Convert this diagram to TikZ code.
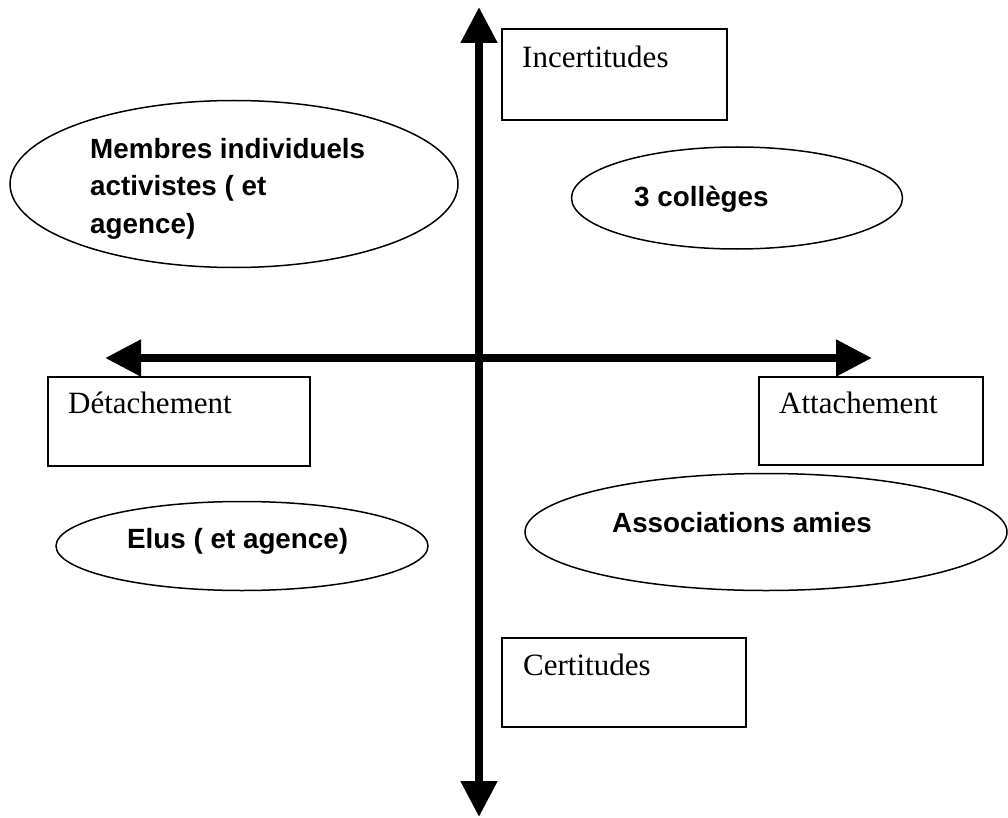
\documentclass[tikz,border=0pt]{standalone}
\usepackage{fontspec}
\setmainfont{Liberation Serif}
\newfontfamily\lsans{Liberation Sans}
\usetikzlibrary{arrows.meta,shapes.geometric}
\tikzset{
  axisline/.style={line width=8pt,{Triangle[length=36pt,width=35pt]}-{Triangle[length=36pt,width=35pt]}},
  boxnode/.style={draw,line width=1.5pt,rectangle,inner sep=0pt,outer sep=0pt},
  ovalnode/.style={draw,line width=1.5pt,ellipse,inner sep=0pt,outer sep=0pt},
  boxtext/.style={inner sep=0pt,anchor=base west,font=\fontsize{31}{37}\selectfont},
  ovaltext/.style={inner sep=0pt,font=\lsans\bfseries\fontsize{27.8}{37.5}\selectfont},
}
\begin{document}
\begin{tikzpicture}[x=1pt,y=-1pt]
\useasboundingbox (0,0) rectangle (1008,818);
% axes
\coordinate (top) at (479,7);
\coordinate (bottom) at (479,817);
\coordinate (left) at (105,358);
\coordinate (right) at (872,358);
\draw[axisline] (top) -- (bottom);
\draw[axisline] (left) -- (right);
% boxes
\node[boxnode,minimum width=225pt,minimum height=91pt] (incert) at (614.5,74.5) {};
\node[boxnode,minimum width=262pt,minimum height=89pt] (detach) at (179,421.5) {};
\node[boxnode,minimum width=224pt,minimum height=88pt] (attach) at (871,421) {};
\node[boxnode,minimum width=244pt,minimum height=89pt] (certit) at (624,682.5) {};
\node[boxtext] (tincert) at (522,68) {Incertitudes};
\node[boxtext] (tdetach) at (68,413) {Détachement};
\node[boxtext] (tattach) at (779,413) {Attachement};
\node[boxtext] (tcertit) at (523,675) {Certitudes};
% ellipses
\node[ovalnode,minimum width=448pt,minimum height=167pt] (membres) at (234,184) {};
\node[ovalnode,minimum width=331pt,minimum height=102pt] (colleges) at (737,198) {};
\node[ovalnode,minimum width=372pt,minimum height=89pt] (elus) at (242,546) {};
\node[ovalnode,minimum width=482pt,minimum height=117pt] (assoc) at (766,532) {};
\node[ovaltext,anchor=north west,align=left] (tmembres) at (90,138) {Membres individuels\\activistes ( et\\agence)};
\node[ovaltext,anchor=base west] (tcolleges) at (634,207) {3 collèges};
\node[ovaltext,anchor=base west] (telus) at (127,548) {Elus ( et agence)};
\node[ovaltext,anchor=base west] (tassoc) at (612,532) {Associations amies};
\end{tikzpicture}
\end{document}
